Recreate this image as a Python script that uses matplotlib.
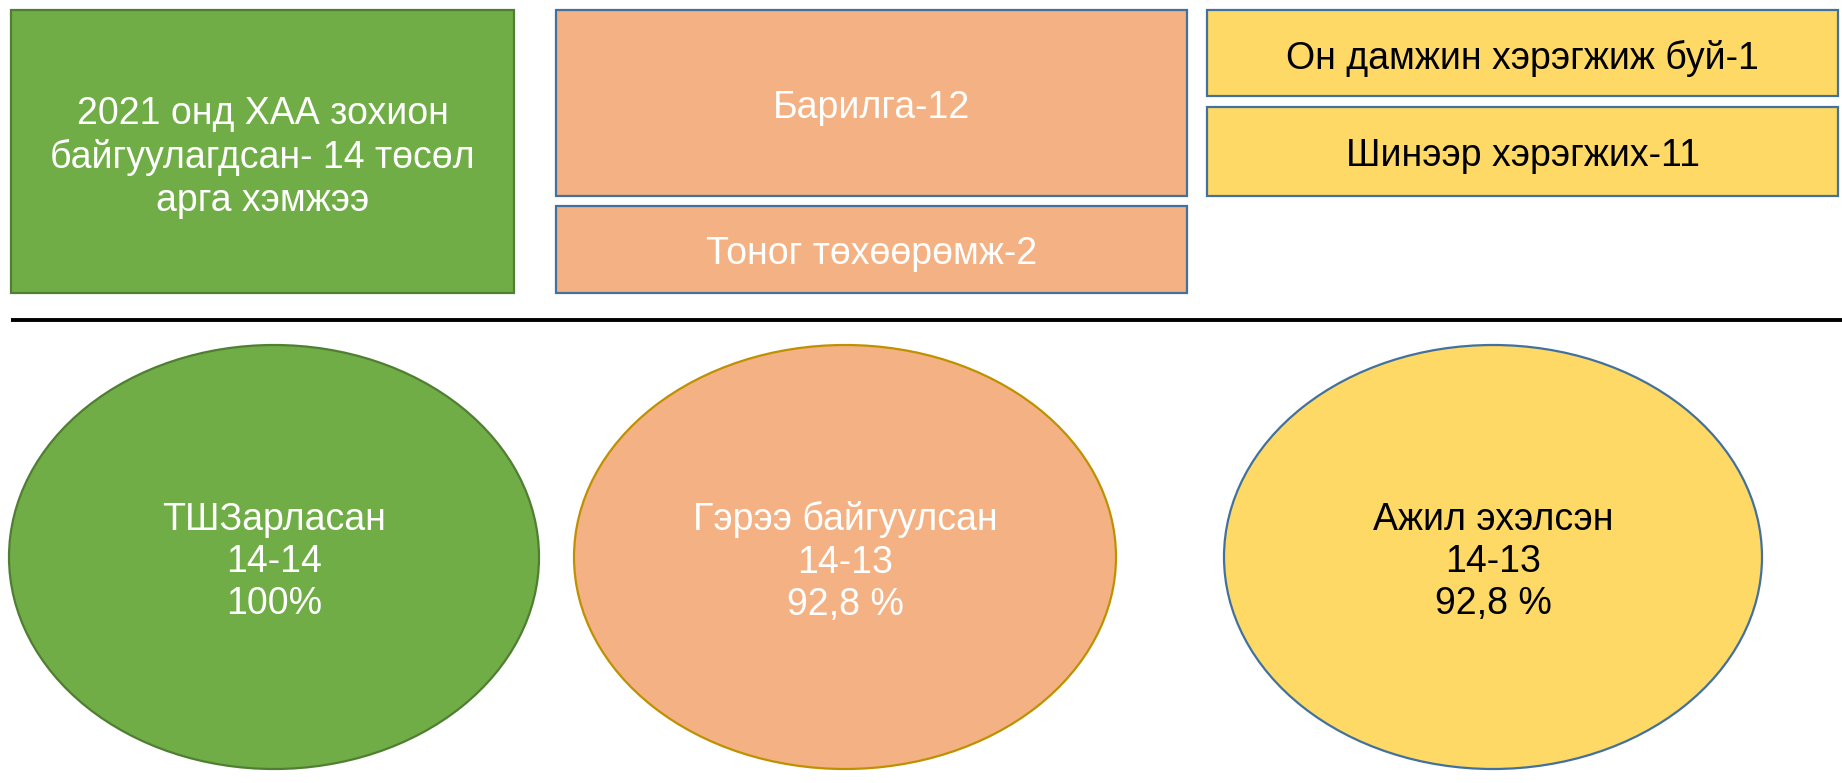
import matplotlib.pyplot as plt
from matplotlib.patches import Rectangle, Ellipse

# data
summary_text = '2021 онд ХАА зохион\nбайгуулагдсан- 14 төсөл\nарга хэмжээ'
type_names = ['Барилга', 'Тоног төхөөрөмж']
type_counts = [12, 2]
status_names = ['Он дамжин хэрэгжиж буй', 'Шинээр хэрэгжих']
status_counts = [1, 11]
stage_names = ['ТШЗарласан', 'Гэрээ байгуулсан', 'Ажил эхэлсэн']
stage_total = [14, 14, 14]
stage_done = [14, 13, 13]
stage_pct = ['100%', '92,8 %', '92,8 %']

plt.rcParams['font.family'] = ['Liberation Sans', 'DejaVu Sans']

green, green_edge = '#70AD47', '#507E32'
orange = '#F4B183'
yellow = '#FFD966'
blue_edge = '#41719C'
fs = 27
ls = 1.23

fig = plt.figure(figsize=(18.42, 7.83), dpi=100)
ax = fig.add_axes([0, 0, 1, 1])
ax.set_xlim(0, 1842)
ax.set_ylim(783, 0)
ax.axis('off')


def box(x0, y0, x1, y1, fc, ec, text, color, dy=5):
    ax.add_patch(Rectangle((x0, y0), x1 - x0, y1 - y0, facecolor=fc, edgecolor=ec, lw=1.6))
    ax.text((x0 + x1) / 2, (y0 + y1) / 2 + dy, text, ha='center', va='center',
            fontsize=fs, color=color, linespacing=ls)


# top row
box(11, 10, 514, 293, green, green_edge, summary_text, 'white', dy=6)

orange_rows = [(10, 196), (206, 293)]
for (y0, y1), name, n in zip(orange_rows, type_names, type_counts):
    box(556, y0, 1187, y1, orange, blue_edge, f'{name}-{n}', 'white')

yellow_rows = [(10, 96), (107, 196)]
for (y0, y1), name, n in zip(yellow_rows, status_names, status_counts):
    box(1207, y0, 1838, y1, yellow, blue_edge, f'{name}-{n}', 'black')

# separator
ax.plot([11, 1842], [320, 320], color='black', lw=2.8, solid_capstyle='butt')

# bottom row ellipses
centers = [274, 845, 1493]
widths = [530, 542, 538]
fills = [green, orange, yellow]
edges = [green_edge, '#BF9000', blue_edge]
txt_colors = ['white', 'white', 'black']
for i in range(3):
    ax.add_patch(Ellipse((centers[i], 557), widths[i], 424, facecolor=fills[i],
                         edgecolor=edges[i], lw=1.6))
    label = f'{stage_names[i]}\n{stage_total[i]}-{stage_done[i]}\n{stage_pct[i]}'
    ax.text(centers[i], 562, label, ha='center', va='center', fontsize=fs,
            color=txt_colors[i], linespacing=ls)

fig.savefig('out.png', dpi=100)
